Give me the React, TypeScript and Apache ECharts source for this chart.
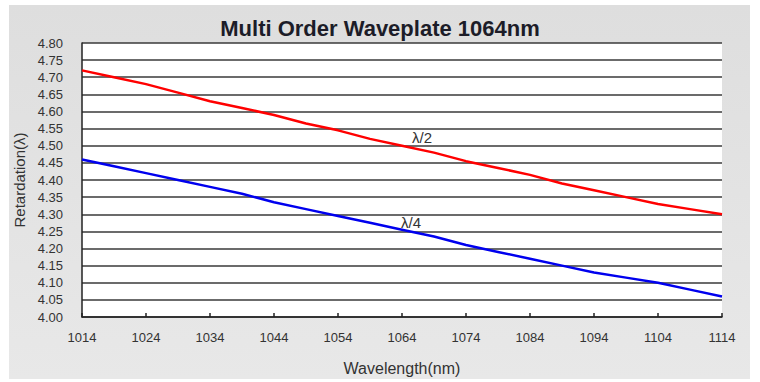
import React, { useEffect, useRef } from "react";
import * as echarts from "echarts";

const wavelengths = [1014, 1019, 1024, 1029, 1034, 1039, 1044, 1049, 1054, 1059, 1064, 1069, 1074, 1079, 1084, 1089, 1094, 1099, 1104, 1109, 1114];
const halfWave = [4.72, 4.70, 4.68, 4.655, 4.63, 4.61, 4.59, 4.565, 4.545, 4.52, 4.50, 4.48, 4.455, 4.435, 4.415, 4.39, 4.37, 4.35, 4.33, 4.315, 4.30];
const quarterWave = [4.46, 4.44, 4.42, 4.40, 4.38, 4.36, 4.335, 4.315, 4.295, 4.275, 4.255, 4.235, 4.21, 4.19, 4.17, 4.15, 4.13, 4.115, 4.10, 4.08, 4.06];
const seriesNames = ["λ/2", "λ/4"];
const titleText = "Multi Order Waveplate 1064nm";
const xName = "Wavelength(nm)";
const yName = "Retardation(λ)";

export default function App() {
  const ref = useRef<HTMLDivElement>(null);
  useEffect(() => {
    if (!ref.current) return;
    const chart = echarts.init(ref.current, null, { renderer: "svg" });
    const font = "Liberation Sans, Arial, sans-serif";
    chart.setOption({
      animation: false,
      backgroundColor: "#ffffff",
      title: {
        text: titleText,
        left: "center",
        top: 12,
        textStyle: { fontFamily: font, fontSize: 22, fontWeight: "bold", color: "#1c1c28" },
      },
      graphic: [
        {
          type: "rect",
          z: -100,
          silent: true,
          shape: { x: 9, y: 5, width: 741, height: 374 },
          style: {
            fill: new echarts.graphic.LinearGradient(0, 0, 0, 1, [
              { offset: 0, color: "#dedede" },
              { offset: 1, color: "#e8e8e8" },
            ]),
          },
        },
        {
          type: "text",
          x: 412,
          y: 130,
          style: { text: seriesNames[0], font: "15px " + font, fill: "#333" },
        },
        {
          type: "text",
          x: 401,
          y: 215,
          style: { text: seriesNames[1], font: "15px " + font, fill: "#333" },
        },
      ],
      grid: {
        left: 82,
        right: 38,
        top: 43,
        bottom: 65,
        show: true,
        backgroundColor: "#ffffff",
        borderWidth: 0,
      },
      xAxis: {
        type: "value",
        min: 1014,
        max: 1114,
        interval: 10,
        name: xName,
        nameLocation: "middle",
        nameGap: 43,
        nameTextStyle: { fontFamily: font, fontSize: 16, color: "#333" },
        axisLine: { show: true, lineStyle: { color: "#222", width: 1.5 } },
        axisTick: { show: true, inside: true, length: 4, lineStyle: { color: "#222", width: 1.5 } },
        axisLabel: {
          fontFamily: font,
          fontSize: 13,
          color: "#333",
          margin: 14,
          formatter: (v: number) => String(v),
        },
        splitLine: { show: false },
      },
      yAxis: {
        type: "value",
        min: 4,
        max: 4.8,
        interval: 0.05,
        name: yName,
        nameLocation: "middle",
        nameGap: 52,
        nameTextStyle: { fontFamily: font, fontSize: 15, color: "#333" },
        axisLine: { show: true, lineStyle: { color: "#222", width: 1.5 } },
        axisTick: { show: false },
        axisLabel: {
          fontFamily: font,
          fontSize: 13,
          color: "#333",
          margin: 19,
          formatter: (v: number) => v.toFixed(2),
        },
        splitLine: { show: true, lineStyle: { color: "#3a3a3a", width: 1.6 } },
      },
      series: [
        {
          name: seriesNames[0],
          type: "line",
          data: wavelengths.map((w, i) => [w, halfWave[i]]),
          symbol: "none",
          lineStyle: { color: "#ff0000", width: 2.5 },
          z: 5,
        },
        {
          name: seriesNames[1],
          type: "line",
          data: wavelengths.map((w, i) => [w, quarterWave[i]]),
          symbol: "none",
          lineStyle: { color: "#0000ee", width: 2.5 },
          z: 5,
        },
      ],
    });
    return () => chart.dispose();
  }, []);
  return (
    <div
      ref={ref}
      style={{ position: "fixed", left: 0, top: 0, width: 760, height: 382 }}
    />
  );
}
